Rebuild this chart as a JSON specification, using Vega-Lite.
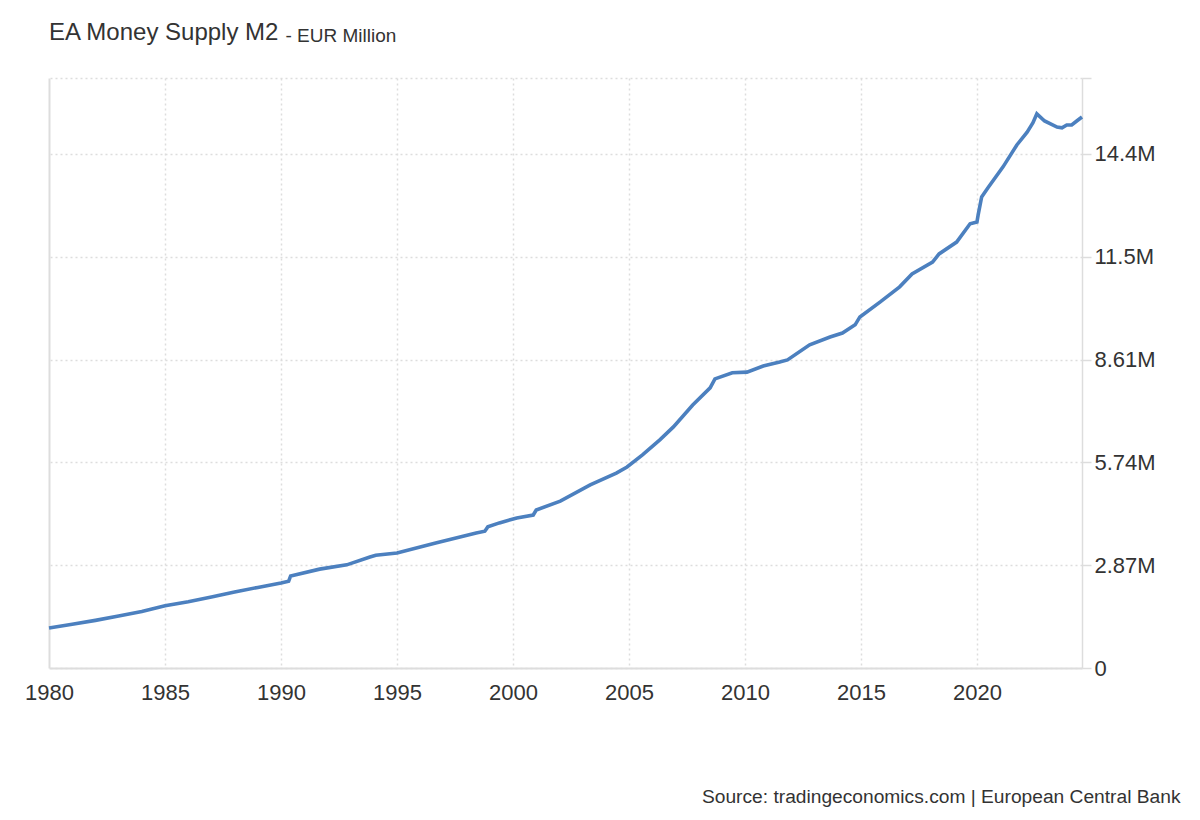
{
  "$schema": "https://vega.github.io/schema/vega-lite/v6.json",
  "width": 1033,
  "height": 590,
  "autosize": {"type": "none"},
  "padding": {"left": 49, "top": 78, "right": 118, "bottom": 152},
  "background": "white",
  "title": {
    "text": "EA Money Supply M2",
    "anchor": "start",
    "frame": "group",
    "font": "Liberation Sans",
    "fontSize": 24,
    "fontWeight": "normal",
    "color": "#333333",
    "offset": -19
  },
  "config": {
    "view": {"stroke": null},
    "axis": {"labelFont": "Liberation Sans", "titleFont": "Liberation Sans", "labelColor": "#333333", "titleColor": "#333333"}
  },
  "data": {
    "values": [
      {"date": "1980-01-01", "value": 1117000},
      {"date": "1981-01-01", "value": 1220000},
      {"date": "1982-01-01", "value": 1330000},
      {"date": "1983-01-01", "value": 1450000},
      {"date": "1984-01-01", "value": 1580000},
      {"date": "1985-01-01", "value": 1740000},
      {"date": "1986-01-01", "value": 1850000},
      {"date": "1987-01-01", "value": 1980000},
      {"date": "1988-01-01", "value": 2120000},
      {"date": "1989-01-01", "value": 2250000},
      {"date": "1990-01-01", "value": 2370000},
      {"date": "1990-05-01", "value": 2420000},
      {"date": "1990-06-01", "value": 2570000},
      {"date": "1991-09-01", "value": 2760000},
      {"date": "1992-11-01", "value": 2880000},
      {"date": "1993-11-01", "value": 3100000},
      {"date": "1994-02-01", "value": 3150000},
      {"date": "1995-01-01", "value": 3210000},
      {"date": "1996-09-01", "value": 3490000},
      {"date": "1998-06-01", "value": 3770000},
      {"date": "1998-10-15", "value": 3820000},
      {"date": "1998-12-01", "value": 3940000},
      {"date": "1999-06-01", "value": 4050000},
      {"date": "2000-03-01", "value": 4190000},
      {"date": "2000-11-15", "value": 4270000},
      {"date": "2001-01-01", "value": 4410000},
      {"date": "2002-01-15", "value": 4660000},
      {"date": "2003-05-01", "value": 5110000},
      {"date": "2004-06-15", "value": 5440000},
      {"date": "2004-12-01", "value": 5610000},
      {"date": "2005-08-01", "value": 5950000},
      {"date": "2006-05-01", "value": 6370000},
      {"date": "2006-12-01", "value": 6730000},
      {"date": "2007-10-01", "value": 7340000},
      {"date": "2008-07-01", "value": 7820000},
      {"date": "2008-09-15", "value": 8070000},
      {"date": "2009-06-15", "value": 8240000},
      {"date": "2010-02-01", "value": 8260000},
      {"date": "2010-10-15", "value": 8430000},
      {"date": "2011-07-01", "value": 8540000},
      {"date": "2011-11-01", "value": 8600000},
      {"date": "2012-10-15", "value": 9020000},
      {"date": "2013-09-01", "value": 9240000},
      {"date": "2014-03-15", "value": 9350000},
      {"date": "2014-10-01", "value": 9580000},
      {"date": "2014-12-15", "value": 9800000},
      {"date": "2015-11-01", "value": 10220000},
      {"date": "2016-09-01", "value": 10640000},
      {"date": "2017-03-15", "value": 11000000},
      {"date": "2018-02-01", "value": 11330000},
      {"date": "2018-05-15", "value": 11560000},
      {"date": "2019-02-15", "value": 11890000},
      {"date": "2019-09-15", "value": 12400000},
      {"date": "2020-01-01", "value": 12450000},
      {"date": "2020-01-20", "value": 12650000},
      {"date": "2020-03-15", "value": 13150000},
      {"date": "2020-06-20", "value": 13400000},
      {"date": "2021-02-15", "value": 13990000},
      {"date": "2021-09-20", "value": 14600000},
      {"date": "2022-03-01", "value": 14960000},
      {"date": "2022-06-01", "value": 15220000},
      {"date": "2022-08-01", "value": 15470000},
      {"date": "2022-12-01", "value": 15270000},
      {"date": "2023-06-15", "value": 15100000},
      {"date": "2023-09-01", "value": 15080000},
      {"date": "2023-11-15", "value": 15160000},
      {"date": "2024-02-01", "value": 15160000},
      {"date": "2024-04-20", "value": 15270000},
      {"date": "2024-07-12", "value": 15380000}
    ]
  },
  "mark": {"type": "line", "color": "#4c80bf", "strokeWidth": 3.6},
  "encoding": {
    "x": {
      "field": "date",
      "type": "temporal",
      "scale": {"type": "utc", "domain": [{"year": 1980, "month": 1, "date": 1, "utc": true}, {"year": 2024, "month": 7, "date": 12, "utc": true}]},
      "axis": {
        "orient": "bottom",
        "format": "%Y",
        "tickCount": {"interval": "year", "step": 5},
        "ticks": false,
        "tickSize": 0,
        "labelPadding": 14,
        "labelFontSize": 22,
        "labelAlign": "center",
        "labelOverlap": false,
        "labelFlush": false,
        "domain": true,
        "domainColor": "#dddddd",
        "domainWidth": 2,
        "grid": true,
        "gridColor": "#dddddd",
        "gridWidth": {"condition": {"test": "utcyear(datum.value) == 1980", "value": 2}, "value": 1.5},
        "gridDash": {"condition": {"test": "utcyear(datum.value) == 1980", "value": []}, "value": [2, 3]},
        "title": "Source: tradingeconomics.com | European Central Bank",
        "titleFontSize": 19.2,
        "titleFontWeight": "normal",
        "titleAlign": "right",
        "titleAnchor": null,
        "titleBaseline": "alphabetic",
        "titleX": 1131,
        "titleY": 134
      }
    },
    "y": {
      "field": "value",
      "type": "quantitative",
      "scale": {"domain": [0, 16470000], "nice": false, "zero": true},
      "axis": {
        "orient": "right",
        "values": [0, 2870000, 5740000, 8610000, 11480000, 14350000, 16470000],
        "labelExpr": "datum.value == 0 ? '0' : (datum.value > 16000000 ? '' : format(datum.value, '.3s'))",
        "labelFontSize": 22,
        "labelPadding": 3,
        "tickSize": 9,
        "tickColor": "#dddddd",
        "tickWidth": 1.5,
        "domain": true,
        "domainColor": "#dddddd",
        "domainWidth": 1.5,
        "grid": true,
        "gridColor": "#dddddd",
        "gridWidth": 1.5,
        "gridDash": [2, 3],
        "title": "- EUR Million",
        "titleFontSize": 19,
        "titleFontWeight": "normal",
        "titleAngle": 0,
        "titleAlign": "left",
        "titleAnchor": null,
        "titleBaseline": "alphabetic",
        "titleX": -797,
        "titleY": -37
      }
    }
  }
}
